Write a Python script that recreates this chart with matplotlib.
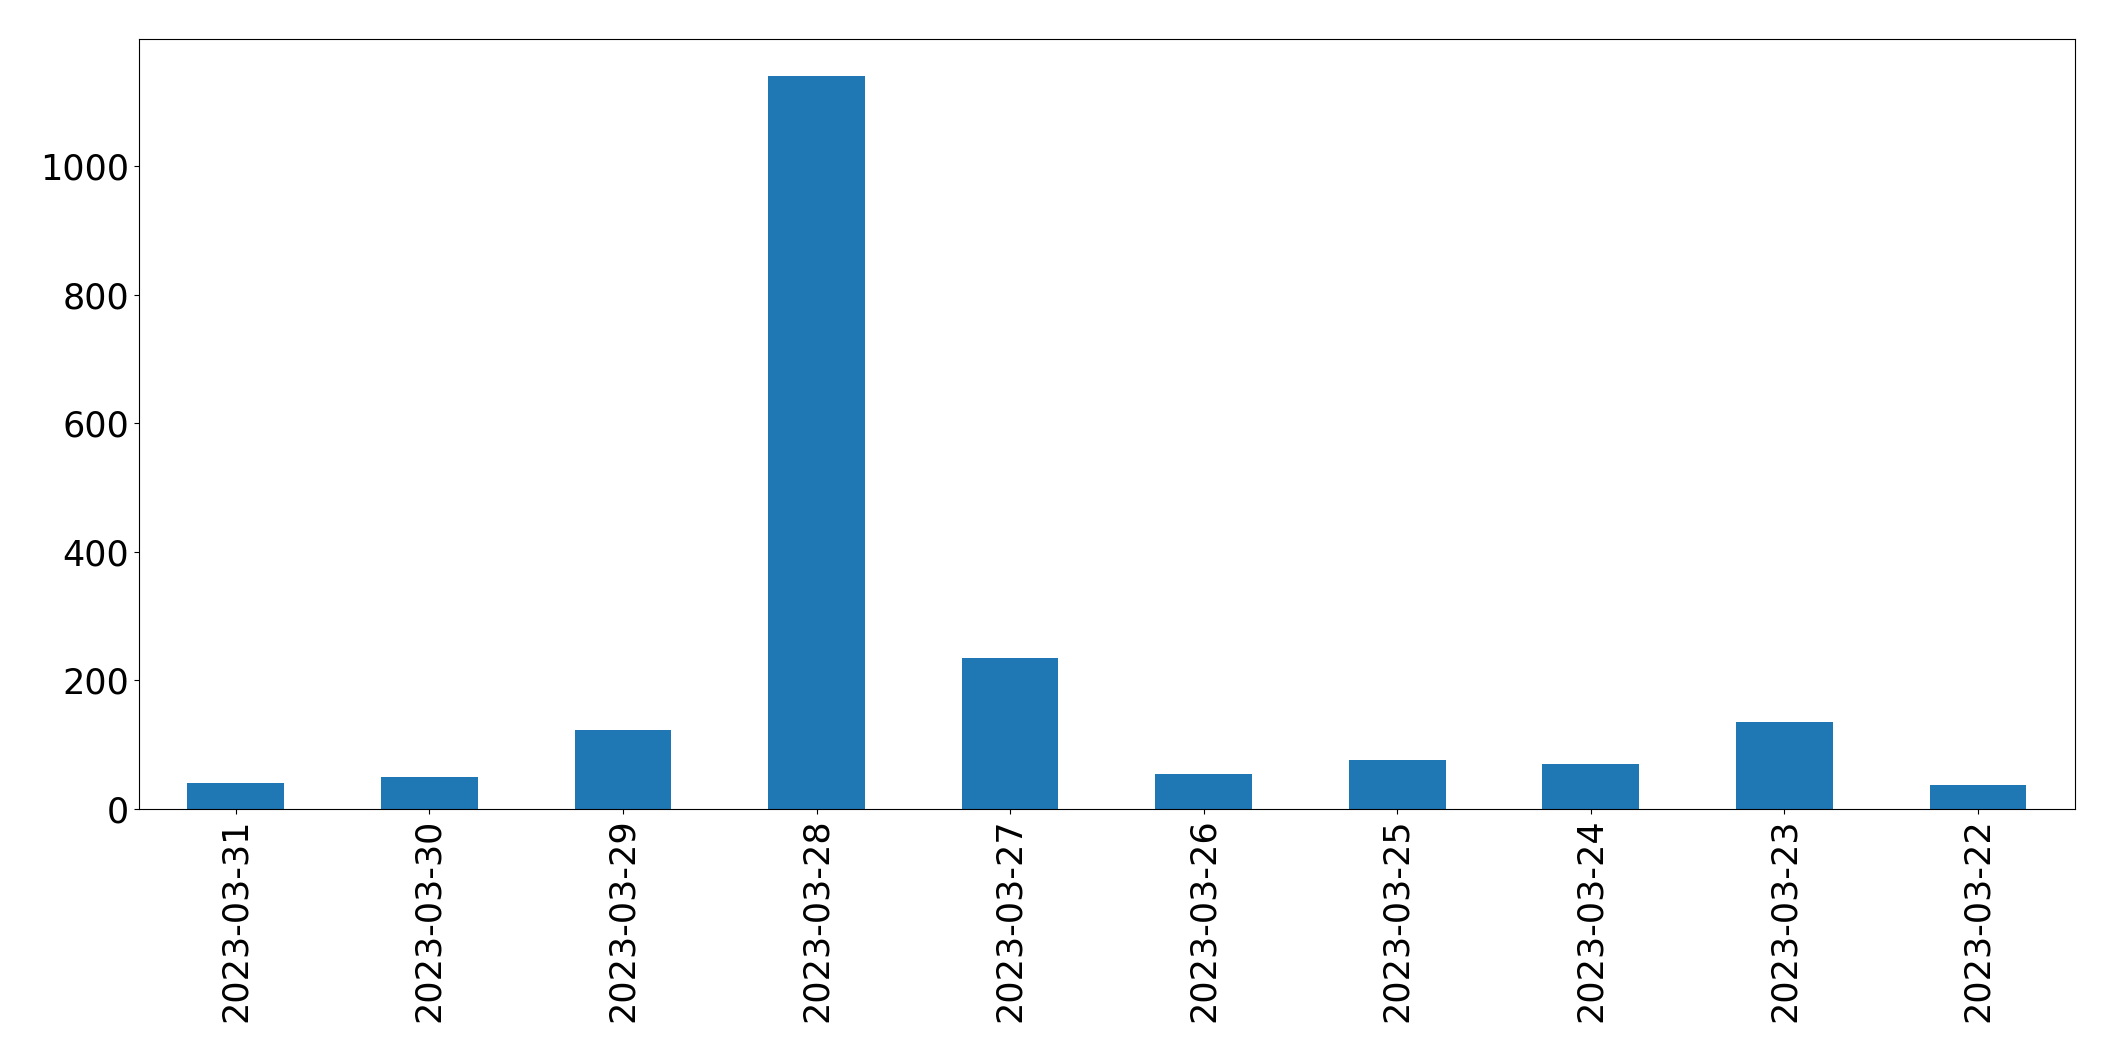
import pandas as pd
import matplotlib
matplotlib.use("Agg")
import matplotlib.pyplot as plt

# daily counts, newest first
dates = ["2023-03-31", "2023-03-30", "2023-03-29", "2023-03-28", "2023-03-27",
         "2023-03-26", "2023-03-25", "2023-03-24", "2023-03-23", "2023-03-22"]
counts = [40, 50, 123, 1140, 235, 54, 76, 70, 135, 37]

series = pd.Series(counts, index=dates)

fig, ax = plt.subplots(figsize=(21.15, 10.61), dpi=100)
series.plot(kind="bar", ax=ax, color="#1f77b4")
ax.tick_params(axis="both", labelsize=25.2)
ax.set_xlabel("")
fig.subplots_adjust(left=0.0657, right=0.981, bottom=0.2375, top=0.963)
fig.savefig("out.png", dpi=100)
plt.close(fig)
